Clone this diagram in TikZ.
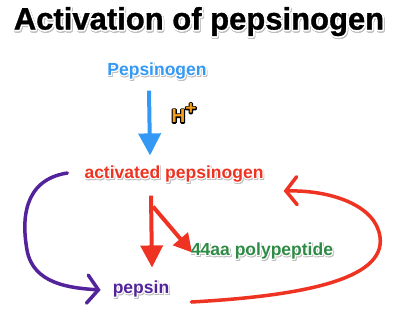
\documentclass[tikz,border=0pt]{standalone}
\usepackage{fontspec}
\setmainfont{Liberation Sans}
\newfontfamily\titlefont{Liberation Sans Bold}[FakeBold=1]
\usepackage[copies]{contour}
\usetikzlibrary{arrows.meta}
\definecolor{cblue}{HTML}{3399F5}
\definecolor{cred}{HTML}{EE3322}
\definecolor{cgreen}{HTML}{2E8B45}
\definecolor{cpurple}{HTML}{52239A}
\definecolor{corange}{HTML}{F5A020}
\contourlength{1.1pt}
\newcommand{\shtext}[2]{\makebox[0pt][l]{\raisebox{-1.3pt}{\hspace{0.8pt}\contour{black!25}{\textcolor{black!25}{#2}}}}\contour{white}{\textcolor{#1}{#2}}}
\newcommand{\outl}[1]{\makebox[0pt][l]{\special{pdf:literal direct 0 0 0 RG 1 Tr 2.4 w 1 j}#1\special{pdf:literal direct 0 Tr}}#1}
\tikzset{
  lbl/.style={inner sep=0pt, font=\bfseries\fontsize{17.5}{20}\selectfont},
  fatarrow/.style={line width=4pt, -{Triangle[length=22pt,width=22pt]}},
  curvearrow/.style={line width=3.5pt, line cap=round, -{Straight Barb[length=11pt,width=28pt,line cap=round]}}
}
\begin{document}
\begin{tikzpicture}[x=1pt,y=-1pt]
\useasboundingbox (0,0) rectangle (402,330);
\fill[white] (0,0) rectangle (402,330);
\node[inner sep=0pt, font=\titlefont\fontsize{31}{34}\selectfont] (title) at (199,23) {\contourlength{1.5pt}\shtext{black}{Activation of pepsinogen}};
\node[lbl] (pg) at (157,72) {\shtext{cblue}{Pepsinogen}};
\node[lbl] (act) at (174,175) {\shtext{cred}{activated pepsinogen}};
\node[lbl] (poly) at (262,252) {\shtext{cgreen}{44aa polypeptide}};
\node[lbl] (pep) at (141,290) {\shtext{cpurple}{pepsin}};
\node[inner sep=0pt, text=corange, font=\bfseries\fontsize{19}{21}\selectfont] (h) at (184,113) {\outl{H}\raisebox{8pt}{\outl{+}}};
% blue arrow
\draw[fatarrow, cblue] ([xshift=-8pt, yshift=-9pt]pg.south) -- ([xshift=-24pt, yshift=10pt]act.north);
% red arrows
\draw[fatarrow, cred] ([xshift=-23pt, yshift=-11pt]act.south) -- ([xshift=11pt, yshift=13pt]pep.north);
\draw[line width=4pt, cred, -{Triangle[length=18pt,width=19pt]}] ([xshift=-21pt, yshift=-22pt]act.south) -- ([xshift=-70pt, yshift=-10pt]poly.north);
\coordinate (rs) at ([shift={(22,12)}]pep.east);
\coordinate (re) at ([shift={(20,16)}]act.east);
\draw[curvearrow, cred] (rs) .. controls (300,296) and (386,280) .. (380,237) .. controls (376,205) and (330,190) .. (re);
% purple arrow
\coordinate (ps) at ([xshift=-17pt, yshift=2pt]act.west);
\draw[curvearrow, cpurple] (ps) .. controls (22,180) and (22,222) .. (27,250) .. controls (33,284) and (70,288) .. ([xshift=-12pt]pep.west);
\end{tikzpicture}
\end{document}
